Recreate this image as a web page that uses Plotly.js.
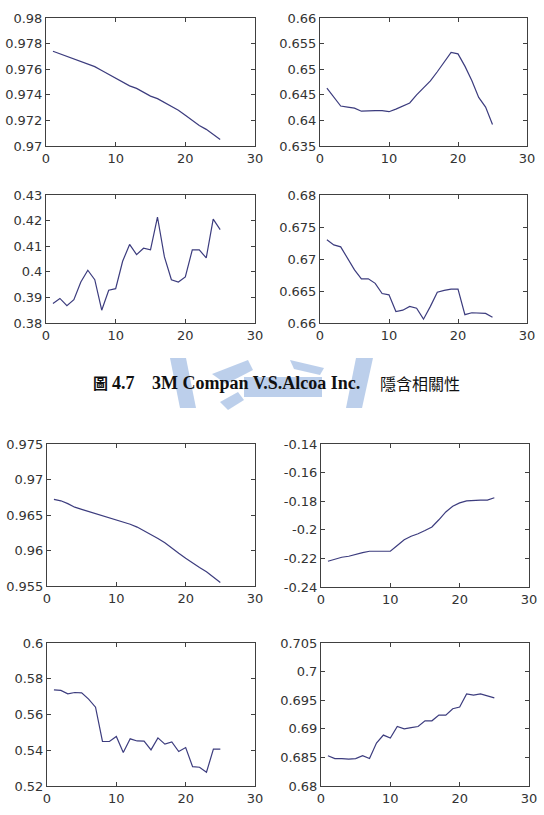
<!DOCTYPE html>
<html>
<head>
<meta charset="utf-8">
<script src="https://cdn.plot.ly/plotly-3.0.1.min.js"></script>
<style>html,body{margin:0;padding:0;background:#fff;}#chart{width:544px;height:815px;}</style>
</head>
<body>
<div id="chart"></div>
<script>
// x values (1..25)
const xVals = [1,2,3,4,5,6,7,8,9,10,11,12,13,14,15,16,17,18,19,20,21,22,23,24,25];

// Figure 4.7 (top group)
const s1 = [0.9774,0.9772,0.9770,0.9768,0.9766,0.9764,0.9762,0.9759,0.9756,0.9753,0.9750,0.9747,0.9745,0.9742,0.9739,0.9737,0.9734,0.9731,0.9728,0.9724,0.9720,0.9716,0.9713,0.9709,0.9705];
const s2 = [0.6463,0.6445,0.6428,0.6426,0.6424,0.6418,0.6419,0.6419,0.6419,0.6417,0.6422,0.6428,0.6434,0.6450,0.6463,0.6477,0.6495,0.6515,0.6533,0.6530,0.6506,0.6478,0.6445,0.6426,0.6392];
const s3 = [0.3876,0.3896,0.3868,0.3891,0.3960,0.4006,0.3969,0.3850,0.3928,0.3934,0.4041,0.4107,0.4067,0.4092,0.4086,0.4214,0.4058,0.3969,0.3960,0.3980,0.4086,0.4086,0.4054,0.4206,0.4165];
const s4 = [0.6730,0.6722,0.6719,0.6700,0.6683,0.6669,0.6669,0.6662,0.6646,0.6644,0.6618,0.6620,0.6626,0.6623,0.6606,0.6626,0.6648,0.6651,0.6653,0.6653,0.6613,0.6616,0.6616,0.6615,0.6609];
// bottom group
const s5 = [0.9672,0.9670,0.9666,0.9661,0.9658,0.9655,0.9652,0.9650,0.9647,0.9644,0.9641,0.9637,0.9633,0.9628,0.9622,0.9617,0.9611,0.9603,0.9596,0.9589,0.9582,0.9576,0.9570,0.9563,0.9555];
const s6 = [-0.2220,-0.2205,-0.2192,-0.2185,-0.2170,-0.2160,-0.2150,-0.2150,-0.2150,-0.2150,-0.2110,-0.2070,-0.2045,-0.2028,-0.2005,-0.1980,-0.1930,-0.1875,-0.1835,-0.1812,-0.1798,-0.1793,-0.1793,-0.1792,-0.1776];
const s7 = [0.5738,0.5735,0.5716,0.5723,0.5721,0.5686,0.5641,0.5449,0.5449,0.5477,0.5387,0.5464,0.5452,0.5451,0.5402,0.5469,0.5434,0.5447,0.5393,0.5415,0.5308,0.5305,0.5277,0.5406,0.5406];
const s8 = [0.6853,0.6848,0.6848,0.6847,0.6848,0.6853,0.6848,0.6875,0.6889,0.6884,0.6904,0.6900,0.6902,0.6904,0.6914,0.6914,0.6924,0.6924,0.6935,0.6938,0.6961,0.6959,0.6961,0.6957,0.6954];

const series = [s1,s2,s3,s4,s5,s6,s7,s8];

// y axis ranges and tick labels
const yRanges = [[0.97,0.98],[0.635,0.66],[0.38,0.43],[0.66,0.68],[0.955,0.975],[-0.24,-0.14],[0.52,0.6],[0.68,0.705]];
const yTickVals = [
  [0.97,0.972,0.974,0.976,0.978,0.98],
  [0.635,0.64,0.645,0.65,0.655,0.66],
  [0.38,0.39,0.4,0.41,0.42,0.43],
  [0.66,0.665,0.67,0.675,0.68],
  [0.955,0.96,0.965,0.97,0.975],
  [-0.24,-0.22,-0.2,-0.18,-0.16,-0.14],
  [0.52,0.54,0.56,0.58,0.6],
  [0.68,0.685,0.69,0.695,0.7,0.705]
];
const yTickText = [
  ["0.97","0.972","0.974","0.976","0.978","0.98"],
  ["0.635","0.64","0.645","0.65","0.655","0.66"],
  ["0.38","0.39","0.4","0.41","0.42","0.43"],
  ["0.66","0.665","0.67","0.675","0.68"],
  ["0.955","0.96","0.965","0.97","0.975"],
  ["-0.24","-0.22","-0.2","-0.18","-0.16","-0.14"],
  ["0.52","0.54","0.56","0.58","0.6"],
  ["0.68","0.685","0.69","0.695","0.7","0.705"]
];
const xTickVals = [0,10,20,30];
const xTickText = ["0","10","20","30"];

const captionParts = ["圖", "4.7", "3M Compan V.S.Alcoa Inc.", "隱含相關性"];

// layout geometry (pixels)
const W = 544, H = 815;
const boxes = [
  [46,255,18,146],[320,527,18,146],
  [46,255,195,323],[320,527,195,323],
  [47,255,444,586],[321,529,444,587],
  [47,255,643,786],[321,529,643,786]
];

const tickFont = {family: 'DejaVu Sans, sans-serif', size: 13, color: '#333333'};
const traces = [];
const layout = {
  width: W, height: H,
  margin: {l:0,r:0,t:0,b:0},
  paper_bgcolor: '#ffffff',
  plot_bgcolor: 'rgba(0,0,0,0)',
  showlegend: false,
  font: tickFont,
  annotations: [],
  shapes: []
};

series.forEach((s, i) => {
  const n = i + 1;
  const xa = 'x' + (n === 1 ? '' : n);
  const ya = 'y' + (n === 1 ? '' : n);
  traces.push({
    x: xVals, y: s, type: 'scatter', mode: 'lines',
    xaxis: xa, yaxis: ya,
    line: {color: '#3c3c7e', width: 1.2},
    hoverinfo: 'skip'
  });
  const b = boxes[i];
  const common = {
    showline: true, linecolor: '#404040', linewidth: 1,
    mirror: 'allticks', ticks: 'inside', ticklen: 4, tickcolor: '#404040', tickwidth: 1,
    showgrid: false, zeroline: false, fixedrange: true,
    tickfont: tickFont
  };
  layout['xaxis' + (n === 1 ? '' : n)] = Object.assign({}, common, {
    domain: [b[0]/W, b[1]/W],
    range: [0, 30], tickmode: 'array', tickvals: xTickVals, ticktext: xTickText,
    anchor: ya, ticklabelstandoff: 0
  });
  layout['yaxis' + (n === 1 ? '' : n)] = Object.assign({}, common, {
    domain: [1 - b[3]/H, 1 - b[2]/H],
    range: yRanges[i], tickmode: 'array', tickvals: yTickVals[i], ticktext: yTickText[i],
    anchor: xa, ticklabelstandoff: 0
  });
});

// watermark (faint logo behind caption)
const wm = 'rgba(160,186,226,0.7)';
const P = (x, y) => `${x/W} ${1-y/H}`;
layout.shapes.push(
  {type:'path', xref:'paper', yref:'paper', layer:'below', fillcolor: wm, line:{width:0},
   path: `M ${P(170,358)} L ${P(186,358)} L ${P(196,408)} L ${P(180,408)} Z`},
  {type:'path', xref:'paper', yref:'paper', layer:'below', fillcolor: wm, line:{width:0},
   path: `M ${P(212,374)} L ${P(248,360)} L ${P(253,370)} L ${P(226,384)} Z`},
  {type:'path', xref:'paper', yref:'paper', layer:'below', fillcolor: wm, line:{width:0},
   path: `M ${P(220,402)} L ${P(238,392)} L ${P(244,400)} L ${P(228,410)} Z`},
  {type:'rect', xref:'paper', yref:'paper', layer:'below', fillcolor: wm, line:{width:0},
   x0: 244/W, x1: 322/W, y0: 1-397/H, y1: 1-377/H},
  {type:'path', xref:'paper', yref:'paper', layer:'below', fillcolor: wm, line:{width:0},
   path: `M ${P(290,360)} L ${P(324,368)} L ${P(320,375)} L ${P(294,369)} Z`},
  {type:'path', xref:'paper', yref:'paper', layer:'below', fillcolor: wm, line:{width:0},
   path: `M ${P(356,358)} L ${P(373,358)} L ${P(362,408)} L ${P(346,408)} Z`}
);

// caption
const capY = 1 - 383/H;
layout.annotations.push(
  {xref:'paper', yref:'paper', x: 91/W, y: capY, xanchor:'left', yanchor:'middle', showarrow:false,
   text: '<b>' + captionParts[0] + '</b>', font:{family:'Noto Sans CJK TC, sans-serif', size:15, color:'#111'}},
  {xref:'paper', yref:'paper', x: 110/W, y: capY, xanchor:'left', yanchor:'middle', showarrow:false,
   text: '<b>' + captionParts[1] + '</b>', font:{family:'Liberation Serif, serif', size:18, color:'#111'}},
  {xref:'paper', yref:'paper', x: 150/W, y: capY, xanchor:'left', yanchor:'middle', showarrow:false,
   text: '<b>' + captionParts[2] + '</b>', font:{family:'Liberation Serif, serif', size:18, color:'#111'}},
  {xref:'paper', yref:'paper', x: 378/W, y: capY, xanchor:'left', yanchor:'middle', showarrow:false,
   text: captionParts[3], font:{family:'Noto Sans CJK TC, sans-serif', size:16, color:'#111'}}
);

Plotly.newPlot('chart', traces, layout, {displayModeBar: false, staticPlot: true});
</script>
</body>
</html>
